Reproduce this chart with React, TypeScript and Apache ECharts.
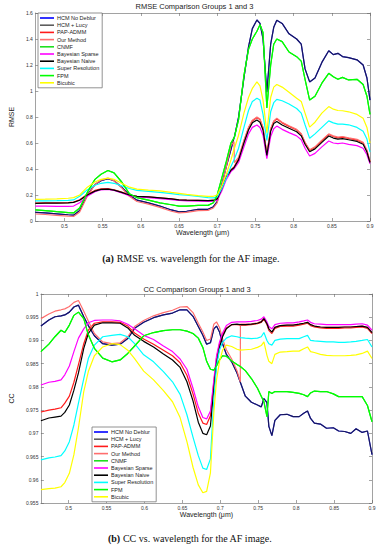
import React, { useEffect, useRef } from "react";
import * as echarts from "echarts";

// ---------- shared labels ----------
const seriesNames = [
  "HCM No Deblur",
  "HCM + Lucy",
  "PAP-ADMM",
  "Our Method",
  "CNMF",
  "Bayesian Sparse",
  "Bayesian Naive",
  "Super Resolution",
  "FPM",
  "Bicubic",
];
const xTickValues = [0.5, 0.55, 0.6, 0.65, 0.7, 0.75, 0.8, 0.85, 0.9];

// ---------- RMSE chart data ----------
const wavelengthRmse = [
  0.462, 0.475, 0.49, 0.505, 0.512, 0.52, 0.53, 0.54, 0.548, 0.557, 0.565, 0.575, 0.585, 0.595,
  0.61, 0.625, 0.64, 0.65, 0.66, 0.675, 0.688, 0.695, 0.7, 0.706, 0.712, 0.718, 0.722, 0.7225,
  0.728, 0.735, 0.741, 0.746, 0.752, 0.756, 0.76, 0.765, 0.77, 0.774, 0.778, 0.785, 0.794, 0.804,
  0.81, 0.815, 0.821, 0.828, 0.837, 0.846, 0.852, 0.858, 0.864, 0.872, 0.883, 0.891, 0.896, 0.9,
];
const rmseHcmNoDeblur = [
  0.067, 0.062, 0.055, 0.048, 0.045, 0.08, 0.2, 0.28, 0.31, 0.325, 0.31, 0.26, 0.2, 0.16,
  0.14, 0.115, 0.085, 0.07, 0.075, 0.09, 0.09, 0.11, 0.15, 0.28, 0.42, 0.55, 0.64, 0.645,
  0.8, 1.1, 1.34, 1.48, 1.546, 1.52, 1.4, 0.99, 1.36, 1.49, 1.545, 1.52, 1.44, 1.4,
  1.36, 1.17, 1.07, 1.1, 1.22, 1.31, 1.28, 1.29, 1.265, 1.257, 1.24, 1.2, 1.1, 0.93,
];
const rmseHcmLucy = [
  0.067, 0.062, 0.055, 0.048, 0.045, 0.08, 0.2, 0.28, 0.31, 0.325, 0.31, 0.26, 0.2, 0.16,
  0.14, 0.115, 0.085, 0.07, 0.075, 0.09, 0.09, 0.11, 0.15, 0.28, 0.42, 0.55, 0.64, 0.645,
  0.8, 1.1, 1.34, 1.48, 1.546, 1.52, 1.4, 0.99, 1.36, 1.49, 1.545, 1.52, 1.44, 1.4,
  1.36, 1.17, 1.07, 1.1, 1.22, 1.31, 1.28, 1.29, 1.265, 1.257, 1.24, 1.2, 1.1, 0.93,
];
const rmsePapAdmm = [
  0.138, 0.139, 0.14, 0.142, 0.145, 0.163, 0.205, 0.235, 0.247, 0.249, 0.24, 0.222, 0.2, 0.19,
  0.185, 0.178, 0.17, 0.163, 0.161, 0.159, 0.157, 0.16, 0.172, 0.255, 0.345, 0.395, 0.415, 0.417,
  0.48, 0.615, 0.715, 0.77, 0.795, 0.78, 0.715, 0.515, 0.705, 0.765, 0.785, 0.755, 0.728, 0.7,
  0.668, 0.6, 0.543, 0.565, 0.617, 0.665, 0.65, 0.64, 0.645, 0.635, 0.622, 0.6, 0.54, 0.455,
];
const rmseOurMethod = [
  0.054, 0.05, 0.044, 0.037, 0.035, 0.07, 0.19, 0.28, 0.315, 0.33, 0.31, 0.255, 0.19, 0.15,
  0.13, 0.105, 0.075, 0.062, 0.066, 0.08, 0.082, 0.1, 0.14, 0.27, 0.42, 0.58, 0.61, 0.45,
  0.49, 0.62, 0.72, 0.775, 0.8, 0.785, 0.72, 0.52, 0.71, 0.77, 0.79, 0.76, 0.733, 0.705,
  0.672, 0.605, 0.548, 0.57, 0.622, 0.67, 0.655, 0.645, 0.65, 0.64, 0.628, 0.605, 0.545, 0.46,
];
const rmseCnmf = [
  0.085, 0.08, 0.072, 0.065, 0.062, 0.1, 0.22, 0.32, 0.36, 0.388, 0.37, 0.3, 0.21, 0.18,
  0.16, 0.14, 0.125, 0.115, 0.115, 0.12, 0.12, 0.14, 0.2, 0.33, 0.46, 0.6, 0.64, 0.645,
  0.78, 1.12, 1.32, 1.4, 1.46, 1.51, 1.45, 0.87, 1.2, 1.36, 1.4, 1.38, 1.3, 1.264,
  1.23, 1.09, 0.93, 0.96, 1.06, 1.136, 1.11, 1.09, 1.105, 1.085, 1.09, 1.05, 0.96, 0.82,
];
const rmseBayesSparse = [
  0.115, 0.114, 0.113, 0.113, 0.115, 0.14, 0.19, 0.225, 0.24, 0.243, 0.235, 0.215, 0.195, 0.185,
  0.18, 0.172, 0.165, 0.158, 0.155, 0.152, 0.15, 0.152, 0.16, 0.23, 0.32, 0.38, 0.4, 0.402,
  0.45, 0.57, 0.67, 0.72, 0.738, 0.72, 0.66, 0.48, 0.65, 0.71, 0.73, 0.705, 0.68, 0.655,
  0.625, 0.56, 0.5, 0.52, 0.57, 0.615, 0.6, 0.595, 0.6, 0.59, 0.58, 0.56, 0.51, 0.44,
];
const rmseBayesNaive = [
  0.136, 0.137, 0.138, 0.14, 0.143, 0.16, 0.2, 0.23, 0.243, 0.245, 0.237, 0.22, 0.2, 0.19,
  0.185, 0.178, 0.17, 0.162, 0.16, 0.158, 0.156, 0.158, 0.17, 0.25, 0.34, 0.39, 0.41, 0.412,
  0.47, 0.6, 0.7, 0.755, 0.777, 0.76, 0.7, 0.505, 0.69, 0.75, 0.765, 0.738, 0.713, 0.687,
  0.655, 0.59, 0.533, 0.555, 0.605, 0.654, 0.638, 0.63, 0.633, 0.625, 0.612, 0.59, 0.53, 0.45,
];
const rmseSuperRes = [
  0.155, 0.155, 0.156, 0.158, 0.162, 0.19, 0.24, 0.275, 0.29, 0.297, 0.29, 0.27, 0.25, 0.235,
  0.228, 0.22, 0.21, 0.203, 0.198, 0.19, 0.18, 0.178, 0.185, 0.25, 0.33, 0.42, 0.47, 0.472,
  0.56, 0.72, 0.85, 0.92, 0.944, 0.93, 0.82, 0.62, 0.84, 0.91, 0.935, 0.925, 0.9, 0.865,
  0.83, 0.74, 0.636, 0.67, 0.72, 0.77, 0.755, 0.745, 0.745, 0.74, 0.72, 0.69, 0.63, 0.53,
];
const rmseFpm = [
  0.085, 0.08, 0.072, 0.065, 0.062, 0.1, 0.22, 0.32, 0.36, 0.388, 0.37, 0.3, 0.21, 0.18,
  0.16, 0.14, 0.125, 0.115, 0.115, 0.12, 0.12, 0.14, 0.2, 0.33, 0.46, 0.6, 0.64, 0.645,
  0.78, 1.12, 1.32, 1.4, 1.46, 1.51, 1.45, 0.87, 1.2, 1.36, 1.4, 1.38, 1.3, 1.264,
  1.23, 1.09, 0.93, 0.96, 1.06, 1.136, 1.11, 1.09, 1.105, 1.085, 1.09, 1.05, 0.96, 0.82,
];
const rmseBicubic = [
  0.167, 0.168, 0.17, 0.175, 0.18, 0.2, 0.26, 0.3, 0.32, 0.33, 0.32, 0.29, 0.26, 0.245,
  0.238, 0.232, 0.22, 0.213, 0.205, 0.195, 0.19, 0.19, 0.2, 0.27, 0.36, 0.47, 0.55, 0.553,
  0.66, 0.83, 0.95, 1.02, 1.07, 1.04, 0.93, 0.68, 0.95, 1.03, 1.05, 1.03, 0.99, 0.945,
  0.92, 0.83, 0.722, 0.76, 0.83, 0.88, 0.86, 0.85, 0.848, 0.84, 0.82, 0.79, 0.72, 0.6,
];

// ---------- CC chart data ----------
const wavelengthCc = [
  0.4635, 0.474, 0.482, 0.49, 0.495, 0.501, 0.507, 0.513, 0.52, 0.526, 0.534, 0.545, 0.557,
  0.568, 0.578, 0.587, 0.599, 0.612, 0.625, 0.637, 0.647, 0.656, 0.664, 0.671, 0.677, 0.682,
  0.687, 0.6915, 0.695, 0.699, 0.703, 0.708, 0.715, 0.722, 0.7264, 0.7265, 0.733, 0.741, 0.749,
  0.754, 0.7575, 0.7615, 0.764, 0.768, 0.772, 0.779, 0.788, 0.796, 0.804, 0.81, 0.815, 0.819,
  0.824, 0.832, 0.84, 0.849, 0.856, 0.864, 0.872, 0.879, 0.887, 0.894, 0.9,
];
const ccHcmNoDeblur = [
  0.9931, 0.9944, 0.9951, 0.9953, 0.9955, 0.9961, 0.9972, 0.9976, 0.9951, 0.9932, 0.991, 0.9893, 0.989,
  0.9892, 0.9904, 0.9926, 0.9939, 0.9949, 0.9955, 0.9959, 0.9966, 0.9966, 0.9952, 0.993, 0.9911, 0.9892,
  0.9895, 0.9925, 0.9931, 0.9918, 0.9893, 0.987, 0.9854, 0.983, 0.981, 0.981, 0.978, 0.9767, 0.9761,
  0.9757, 0.9775, 0.9766, 0.9715, 0.9695, 0.9728, 0.974, 0.9741, 0.9736, 0.9736, 0.9743, 0.9748, 0.9732,
  0.9722, 0.972, 0.9711, 0.9712, 0.9705, 0.9704, 0.97, 0.971, 0.9702, 0.9705, 0.9654,
];
const ccHcmLucy = [
  0.9931, 0.9944, 0.9951, 0.9953, 0.9955, 0.9961, 0.9972, 0.9976, 0.9951, 0.9932, 0.991, 0.9893, 0.989,
  0.9892, 0.9904, 0.9926, 0.9939, 0.9949, 0.9955, 0.9959, 0.9966, 0.9966, 0.9952, 0.993, 0.9911, 0.9892,
  0.9895, 0.9925, 0.9931, 0.9918, 0.9893, 0.987, 0.9854, 0.983, 0.981, 0.981, 0.978, 0.9767, 0.9761,
  0.9757, 0.9775, 0.9766, 0.9715, 0.9695, 0.9728, 0.974, 0.9741, 0.9736, 0.9736, 0.9743, 0.9748, 0.9732,
  0.9722, 0.972, 0.9711, 0.9712, 0.9705, 0.9704, 0.97, 0.971, 0.9702, 0.9705, 0.9654,
];
const ccPapAdmm = [
  0.9746, 0.975, 0.9752, 0.9755, 0.9765, 0.978, 0.981, 0.9848, 0.9893, 0.9922, 0.9937, 0.994, 0.994,
  0.9939, 0.9931, 0.9916, 0.9903, 0.9892, 0.9879, 0.9867, 0.9852, 0.9825, 0.9785, 0.9743, 0.9722, 0.9719,
  0.9738, 0.981, 0.9862, 0.9893, 0.9912, 0.9927, 0.9934, 0.9934, 0.9933, 0.9933, 0.9933, 0.9934, 0.9936,
  0.9939, 0.9946, 0.9934, 0.9922, 0.9915, 0.9926, 0.993, 0.9931, 0.9931, 0.9933, 0.9935, 0.9937, 0.9932,
  0.9929, 0.9927, 0.9926, 0.9926, 0.9926, 0.9927, 0.9927, 0.9928, 0.9929, 0.9926, 0.9915,
];
const ccOurMethod = [
  0.9947, 0.9957, 0.9963, 0.9966, 0.9968, 0.9973, 0.9982, 0.9986, 0.9963, 0.9942, 0.9915, 0.9897, 0.9893,
  0.9895, 0.9908, 0.993, 0.9943, 0.9953, 0.996, 0.9965, 0.9972, 0.9973, 0.996, 0.9937, 0.9918, 0.99,
  0.9903, 0.9935, 0.994, 0.9928, 0.9903, 0.988, 0.986, 0.9835, 0.9811, 0.9935, 0.9935, 0.9936, 0.9938,
  0.9941, 0.9948, 0.9936, 0.9924, 0.9917, 0.9928, 0.9932, 0.9933, 0.9933, 0.9935, 0.9937, 0.9939, 0.9934,
  0.9931, 0.9929, 0.9928, 0.9928, 0.9928, 0.9929, 0.9929, 0.993, 0.9931, 0.9928, 0.9917,
];
const ccCnmf = [
  0.9876, 0.9892, 0.9908, 0.9922, 0.9917, 0.9933, 0.9954, 0.9961, 0.9947, 0.9912, 0.9883, 0.9862, 0.9854,
  0.9858, 0.9872, 0.9888, 0.991, 0.9917, 0.9921, 0.9923, 0.9923, 0.992, 0.9915, 0.9905, 0.9885, 0.9855,
  0.9838, 0.9836, 0.9845, 0.9858, 0.9867, 0.9866, 0.9856, 0.9848, 0.9844, 0.9844, 0.9835, 0.9818, 0.9797,
  0.978, 0.9768, 0.9736, 0.979, 0.9786, 0.979, 0.979, 0.979, 0.9788, 0.9786, 0.9783, 0.9779, 0.9787,
  0.9791, 0.979, 0.979, 0.9785, 0.9779, 0.9779, 0.9779, 0.9779, 0.9779, 0.976, 0.9725,
];
const ccBayesSparse = [
  0.9804, 0.981, 0.9812, 0.9815, 0.9826, 0.9845, 0.9876, 0.9905, 0.9925, 0.9938, 0.9943, 0.9944, 0.9944,
  0.9942, 0.9935, 0.9925, 0.9911, 0.9902, 0.9888, 0.9876, 0.986, 0.9838, 0.9797, 0.9757, 0.9734, 0.9731,
  0.9748, 0.9815, 0.9866, 0.9897, 0.9916, 0.9932, 0.9939, 0.994, 0.994, 0.994, 0.994, 0.9941, 0.9943,
  0.9946, 0.9951, 0.994, 0.993, 0.9925, 0.9934, 0.9937, 0.9938, 0.9938, 0.994, 0.9942, 0.9944, 0.9939,
  0.9936, 0.9935, 0.9934, 0.9934, 0.9934, 0.9934, 0.9934, 0.9935, 0.9936, 0.9933, 0.9922,
];
const ccBayesNaive = [
  0.9727, 0.9733, 0.9735, 0.9737, 0.9745, 0.9761, 0.9793, 0.983, 0.9883, 0.9915, 0.9933, 0.9938, 0.9938,
  0.9937, 0.9927, 0.9911, 0.9898, 0.9886, 0.9871, 0.9858, 0.9842, 0.9811, 0.977, 0.9724, 0.97, 0.9697,
  0.9716, 0.9795, 0.985, 0.9885, 0.9908, 0.9925, 0.9934, 0.9935, 0.9934, 0.9934, 0.9934, 0.9935, 0.9937,
  0.994, 0.9947, 0.9936, 0.9925, 0.9918, 0.9928, 0.9932, 0.9933, 0.9933, 0.9935, 0.9937, 0.9939, 0.9934,
  0.9931, 0.9929, 0.9928, 0.9928, 0.9928, 0.9929, 0.9929, 0.993, 0.9931, 0.9928, 0.9917,
];
const ccSuperRes = [
  0.9643, 0.9647, 0.9649, 0.9652, 0.9662, 0.9682, 0.9718, 0.9765, 0.9818, 0.9861, 0.989, 0.9908, 0.9911,
  0.9913, 0.9908, 0.9893, 0.9869, 0.9854, 0.9833, 0.9811, 0.9784, 0.974, 0.9692, 0.9652, 0.9625, 0.9622,
  0.9645, 0.9775, 0.9845, 0.988, 0.9896, 0.9905, 0.991, 0.9908, 0.9906, 0.9906, 0.9905, 0.9904, 0.9905,
  0.9908, 0.9917, 0.99, 0.9893, 0.989, 0.99, 0.9903, 0.9904, 0.9904, 0.9904, 0.9908, 0.9911, 0.99,
  0.9899, 0.9898, 0.9897, 0.9897, 0.9896, 0.9896, 0.9897, 0.9898, 0.99, 0.9902, 0.9886,
];
const ccFpm = [
  0.9876, 0.9892, 0.9908, 0.9922, 0.9917, 0.9933, 0.9954, 0.9961, 0.9947, 0.9912, 0.9883, 0.9862, 0.9854,
  0.9858, 0.9872, 0.9888, 0.991, 0.9917, 0.9921, 0.9923, 0.9923, 0.992, 0.9915, 0.9905, 0.9885, 0.9855,
  0.9838, 0.9836, 0.9845, 0.9858, 0.9867, 0.9866, 0.9856, 0.9848, 0.9844, 0.9844, 0.9835, 0.9818, 0.9797,
  0.978, 0.9768, 0.9736, 0.979, 0.9786, 0.979, 0.979, 0.979, 0.9788, 0.9786, 0.9783, 0.9779, 0.9787,
  0.9791, 0.979, 0.979, 0.9785, 0.9779, 0.9779, 0.9779, 0.9779, 0.9779, 0.976, 0.9725,
];
const ccBicubic = [
  0.9579, 0.9581, 0.9582, 0.9585, 0.9594, 0.9614, 0.9654, 0.9712, 0.979, 0.9833, 0.9867, 0.9886, 0.9893,
  0.9891, 0.9879, 0.9861, 0.9834, 0.9815, 0.9792, 0.9768, 0.9734, 0.9682, 0.9627, 0.9589, 0.9572, 0.9575,
  0.9615, 0.9745, 0.9815, 0.9855, 0.9879, 0.989, 0.9887, 0.9881, 0.9879, 0.9879, 0.988, 0.9881, 0.9885,
  0.9889, 0.9897, 0.9868, 0.9855, 0.985, 0.987, 0.9875, 0.9876, 0.9877, 0.9877, 0.9882, 0.9886, 0.9876,
  0.9874, 0.987, 0.9868, 0.9867, 0.9867, 0.9867, 0.9868, 0.9869, 0.9872, 0.9877, 0.9861,
];

const rmseValues = [
  rmseHcmNoDeblur, rmseHcmLucy, rmsePapAdmm, rmseOurMethod, rmseCnmf,
  rmseBayesSparse, rmseBayesNaive, rmseSuperRes, rmseFpm, rmseBicubic,
];
const ccValues = [
  ccHcmNoDeblur, ccHcmLucy, ccPapAdmm, ccOurMethod, ccCnmf,
  ccBayesSparse, ccBayesNaive, ccSuperRes, ccFpm, ccBicubic,
];

// ---------- styles ----------
const seriesColors = [
  "#0000ff", "rgba(30,30,30,0.72)", "#ff1a1a", "#ff6e6e", "#1fe01f",
  "#ff00ff", "#000000", "#00ffff", "#00ff00", "#ffff00",
];
const SANS = "'Liberation Sans', Arial, Helvetica, sans-serif";
const SERIF = "'Liberation Serif', 'Times New Roman', serif";
const AXIS_COLOR = "#8a8a8a";

function xAxes(gridIndex: number, min: number, max: number) {
  const fmt = (v: number) => String(+v.toFixed(2));
  return [
    {
      type: "value", gridIndex, min, max, position: "bottom",
      axisLine: { show: true, onZero: false, lineStyle: { color: AXIS_COLOR, width: 0.8 } },
      axisTick: { show: true, inside: true, length: 3, customValues: xTickValues, lineStyle: { color: "#666", width: 0.6 } },
      axisLabel: { show: true, customValues: xTickValues, formatter: fmt, fontSize: 5, color: "#333", margin: 2.5, fontFamily: SANS },
      splitLine: { show: false },
      name: "Wavelength (μm)", nameLocation: "middle", nameGap: 6,
      nameTextStyle: { fontSize: 7, color: "#222", fontFamily: SANS },
    },
    {
      type: "value", gridIndex, min, max, position: "top",
      axisLine: { show: true, onZero: false, lineStyle: { color: AXIS_COLOR, width: 0.8 } },
      axisTick: { show: true, inside: true, length: 3, customValues: xTickValues, lineStyle: { color: "#666", width: 0.6 } },
      axisLabel: { show: false },
      splitLine: { show: false },
    },
  ];
}

function yAxes(gridIndex: number, min: number, max: number, interval: number, name: string, nameGap: number, digits: number) {
  const fmt = (v: number) => String(+v.toFixed(digits));
  return [
    {
      type: "value", gridIndex, min, max, interval, position: "left",
      axisLine: { show: true, onZero: false, lineStyle: { color: AXIS_COLOR, width: 0.8 } },
      axisTick: { show: true, inside: true, length: 3, lineStyle: { color: "#666", width: 0.6 } },
      axisLabel: { show: true, formatter: fmt, fontSize: 5, color: "#333", margin: 2.5, fontFamily: SANS },
      splitLine: { show: false },
      name, nameLocation: "middle", nameGap, nameRotate: 90,
      nameTextStyle: { fontSize: 7, color: "#222", fontFamily: SANS },
    },
    {
      type: "value", gridIndex, min, max, interval, position: "right",
      axisLine: { show: true, onZero: false, lineStyle: { color: AXIS_COLOR, width: 0.8 } },
      axisTick: { show: true, inside: true, length: 3, lineStyle: { color: "#666", width: 0.6 } },
      axisLabel: { show: false },
      splitLine: { show: false },
    },
  ];
}

function legendFor(left: number, top: number) {
  return {
    orient: "vertical", left, top,
    data: seriesNames,
    icon: "rect", itemWidth: 14, itemHeight: 1.6, itemGap: 1.2,
    textStyle: { fontSize: 5.5, lineHeight: 6, color: "#222", fontFamily: SANS, padding: [0, 0, 0, -2] },
    backgroundColor: "#fff", borderColor: "#777", borderWidth: 0.8,
    padding: [2, 3, 2, 2], selectedMode: false,
  };
}

export default function App() {
  const ref = useRef<HTMLDivElement>(null);

  useEffect(() => {
    document.body.style.margin = "0";
    if (!ref.current) return;
    const chart = echarts.init(ref.current, undefined, { renderer: "svg" });

    const series: any[] = [];
    seriesNames.forEach((name, i) => {
      series.push({
        name, type: "line", xAxisIndex: 0, yAxisIndex: 0,
        data: wavelengthRmse.map((w, k) => [w, rmseValues[i][k]]),
        showSymbol: false, symbol: "none", color: seriesColors[i],
        lineStyle: { width: 1.2, color: seriesColors[i] }, z: 2 + i,
      });
    });
    seriesNames.forEach((name, i) => {
      series.push({
        name, type: "line", xAxisIndex: 2, yAxisIndex: 2,
        data: wavelengthCc.map((w, k) => [w, ccValues[i][k]]),
        showSymbol: false, symbol: "none", color: seriesColors[i],
        lineStyle: { width: 1.2, color: seriesColors[i] }, z: 2 + i,
      });
    });

    chart.setOption({
      animation: false,
      backgroundColor: "#fff",
      textStyle: { fontFamily: SANS },
      grid: [
        { left: 21, top: 13, width: 349, height: 208, containLabel: false },
        { left: 24, top: 294, width: 348, height: 209, containLabel: false },
      ],
      xAxis: [...xAxes(0, 0.462, 0.9), ...xAxes(1, 0.4635, 0.9)],
      yAxis: [
        ...yAxes(0, 0, 1.6, 0.2, "RMSE", 13, 1),
        ...yAxes(1, 0.955, 1, 0.005, "CC", 19, 3),
      ],
      legend: [legendFor(38, 13), legendFor(92, 427)],
      series,
      graphic: [
        {
          type: "text", left: 195.5 - 60, top: 2,
          style: { text: "RMSE Comparison Groups 1 and 3", fontSize: 7.5, fill: "#222", fontFamily: SANS, width: 120, align: "center" },
        },
        {
          type: "text", x: 197, y: 289,
          style: { text: "CC Comparison Groups 1 and 3", fontSize: 7.5, fill: "#222", fontFamily: SANS, align: "center", verticalAlign: "middle" },
        },
        {
          type: "text", x: 191, y: 258,
          style: {
            text: "{b|(a)} RMSE vs. wavelength for the AF image.",
            rich: { b: { fontWeight: "bold", fontSize: 10, fontFamily: SERIF, fill: "#111" } },
            fontSize: 10, fill: "#111", fontFamily: SERIF, align: "center", verticalAlign: "middle",
          },
        },
        {
          type: "text", x: 190, y: 538,
          style: {
            text: "{b|(b)} CC vs. wavelength for the AF image.",
            rich: { b: { fontWeight: "bold", fontSize: 10, fontFamily: SERIF, fill: "#111" } },
            fontSize: 10, fill: "#111", fontFamily: SERIF, align: "center", verticalAlign: "middle",
          },
        },
      ],
    });

    return () => chart.dispose();
  }, []);

  return <div ref={ref} style={{ width: 381, height: 550 }} />;
}
